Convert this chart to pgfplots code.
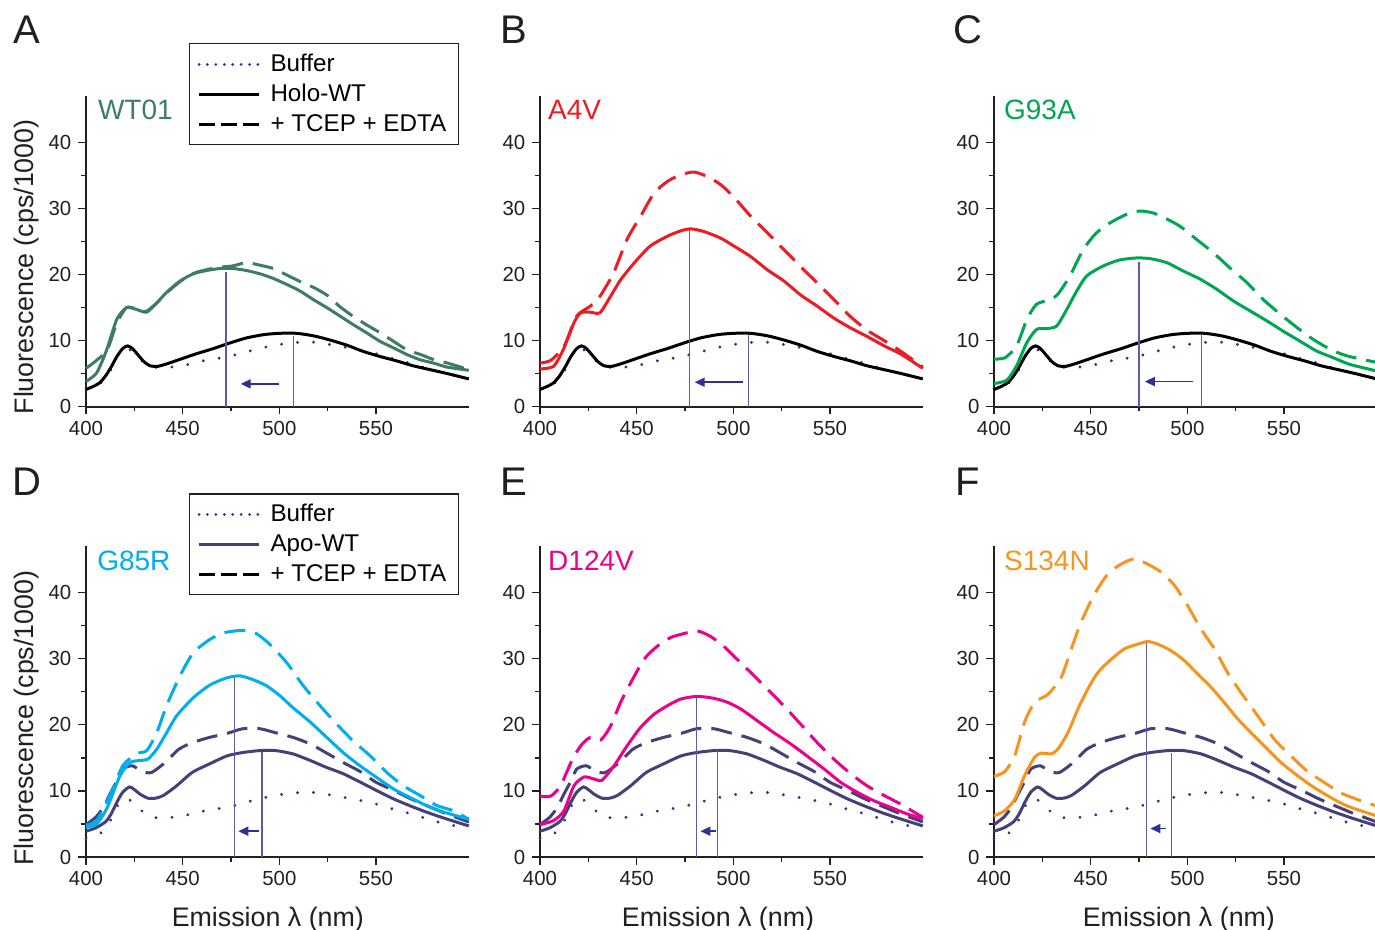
\documentclass[border=0pt]{standalone}
\usepackage{fontspec}
\setmainfont{Liberation Sans}
\usepackage{pgfplots}
\usepackage{pgfplotstable}
\pgfplotsset{compat=1.18}
\usetikzlibrary{arrows.meta}

\definecolor{txt}{RGB}{35,31,32}
\definecolor{wtgreen}{RGB}{62,125,96}
\definecolor{a4vred}{RGB}{237,28,36}
\definecolor{g93green}{RGB}{0,166,81}
\definecolor{g85cyan}{RGB}{0,174,239}
\definecolor{d124mag}{RGB}{236,0,140}
\definecolor{s134org}{RGB}{247,148,29}
\definecolor{apo}{RGB}{70,64,120}
\definecolor{buf}{RGB}{46,49,146}
\definecolor{vl}{RGB}{90,94,170}

% shared curves
\pgfplotstableread{
x y
400 2.8
404 3.2
408 3.7
411 4.8
414 6.2
417 8.2
420 8.8
424 8.4
428 7.2
433 6.1
440 5.9
450 6.2
458 6.8
466 7.2
474 7.6
483 8.3
491 8.9
500 9.4
508 9.7
516 9.8
524 9.5
532 9.1
541 8.6
549 8.1
557 7.4
566 6.7
574 6.0
582 5.3
591 4.7
598 4.0
}\buffer

\pgfplotstableread{
x y
400 2.6
404 3.1
407 3.6
410 4.6
413 6.0
416 7.6
419 8.8
421.5 9.2
424 8.8
427 7.8
430 6.8
433 6.2
437 6.1
442 6.5
449 7.2
457 8.0
466 8.8
474 9.6
483 10.4
492 10.9
500 11.1
509 11.1
518 10.7
526 10.1
535 9.3
543 8.4
552 7.6
561 6.9
569 6.2
578 5.6
587 5.0
598 4.2
}\holo

\pgfplotstableread{
x y
400 3.9
405 4.4
410 5.3
413 6.5
416 8.3
419 9.8
422.5 10.6
425 10.2
428 9.5
432 8.9
436 8.9
440 9.3
447 10.8
455 12.8
464 14.1
473 15.3
481 15.8
490 16.1
498 16.1
507 15.6
516 14.6
524 13.6
533 12.6
542 11.3
550 10.1
559 8.8
568 7.7
576 6.8
585 5.9
598 4.7
}\apo

\pgfplotstableread{
x y
400 4.9
405 6.0
409 7.5
412 9.3
416 11.5
419 13.3
424 13.8
429 12.9
434 12.8
441 14.3
448 16.3
455 17.3
464 18.1
473 18.7
481 19.4
490 19.4
498 18.8
507 18.1
516 17.1
524 15.8
533 14.3
542 12.9
550 11.3
559 10.1
568 8.8
576 7.8
585 6.7
598 5.3
}\apod

\pgfplotsset{
  panel/.style={
    scale only axis, width=191.4pt, height=155.35pt,
    anchor=south west,
    xmin=400, xmax=598, ymin=0, ymax=47,
    axis x line*=bottom, axis y line*=left,
    axis line style={-, line width=0.9pt, color=txt},
    xtick={400,450,500,550}, ytick={0,10,20,30,40},
    minor x tick num=1, minor y tick num=1,
    tick align=outside,
    major tick length=3.8pt, minor tick length=2.3pt,
    every tick/.style={line width=0.7pt, color=txt},
    tick label style={font=\fontsize{10.2}{12}\selectfont, text=txt},
    /pgf/number format/assume math mode=true,
    clip=false,
    legend image code/.code={\draw[##1] (0pt,0pt) -- (30pt,0pt);},
    legend style={at={(0.974,1.17)}, anchor=north east, draw=txt,
      line width=0.6pt, fill=white, font=\fontsize{12.1}{13}\selectfont,
      inner xsep=4pt, inner ysep=3pt, row sep=1pt,
      /tikz/every odd column/.append style={column sep=3pt}},
    legend cell align=left,
  },
  sol/.style={line width=1.5pt, smooth, tension=0.4, forget plot},
  dsh/.style={line width=1.5pt, smooth, tension=0.4, dash pattern=on 10.5pt off 5pt, forget plot},
  dot/.style={buf, line width=1.6pt, smooth, tension=0.4, dash pattern=on 0.01pt off 8pt, line cap=round, forget plot},
  vln/.style={vl, line width=0.6pt, forget plot},
  arr/.style={buf, line width=0.9pt, -{Triangle[length=5pt,width=4.5pt]}, forget plot},
}
\tikzset{
  lbl/.style={font=\fontsize{20}{24}\selectfont, text=txt},
  nm/.style={anchor=west, font=\fontsize{14}{16}\selectfont},
  ax/.style={font=\fontsize{13.4}{16}\selectfont, text=txt},
}

\begin{document}
\begin{tikzpicture}
\useasboundingbox (0,0) rectangle (687.5pt,465pt);

% ---- A ----
\begin{axis}[panel, at={(43pt,261.65pt)}]
\addplot[dot] table {\buffer};
\addplot[sol, black] table {\holo};
\addplot[dsh, wtgreen] coordinates {
(400,5.8) (405,6.9) (411,8.6) (416,12.7) (421,15.0) (426,14.8) (431,14.4)
(437,15.8) (442,17.3) (449,19.0) (456,20.2) (462,20.7) (469,21.1) (476,21.3)
(483,21.8) (490,21.4) (497,20.9) (504,19.9) (511,18.9) (518,18.0) (525,16.8)
(531,15.2) (538,13.7) (545,12.4) (552,11.2) (559,9.9) (566,8.6) (573,7.9)
(580,7.1) (587,6.6) (598,5.6)};
\addplot[sol, wtgreen] coordinates {
(400,3.8) (405.5,5.1) (410.7,8.6) (415.9,13.2) (421,15.0) (426.2,14.7)
(431.4,14.3) (436.6,15.7) (441.7,17.3) (448.6,19.0) (455.5,20.1) (462.4,20.6)
(469.3,20.9) (476.2,20.9) (483,20.6) (490,20.1) (496.9,19.4) (503.8,18.5)
(510.7,17.5) (517.6,16.2) (524.5,15.0) (531.4,13.7) (538.3,12.4) (545,11.2)
(552,9.9) (559,8.9) (565.9,7.9) (572.8,7.1) (579.7,6.6) (586.6,6.0) (598,5.5)};
\addplot[vln] coordinates {(472.4,0) (472.4,20.4)};
\addplot[vln] coordinates {(507.2,0) (507.2,10.7)};
\addplot[arr] coordinates {(500,3.45) (480,3.45)};
\addlegendimage{buf, line width=1.5pt, dash pattern=on 0.01pt off 4.2pt, line cap=round}
\addlegendentry{Buffer}
\addlegendimage{black, line width=1.5pt}
\addlegendentry{Holo-WT}
\addlegendimage{black, line width=1.5pt, dash pattern=on 8pt off 3pt}
\addlegendentry{+ TCEP + EDTA}
\node[lbl] at (rel axis cs:-0.154,1.212) {A};
\node[nm, text=wtgreen] at (rel axis cs:0.013,0.955) {WT01};
\node[ax, rotate=90] at (rel axis cs:-0.154,0.45) {Fluorescence (cps/1000)};
\end{axis}

% ---- B ----
\begin{axis}[panel, at={(270pt,261.65pt)}]
\addplot[dot] table {\buffer};
\addplot[sol, black] table {\holo};
\addplot[dsh, a4vred] coordinates {
(400,6.6) (405.5,7.0) (412.4,9.1) (419,13.7) (426,15.2) (431,16.7) (438,20.2)
(445,25.3) (452,28.8) (459,32.3) (466,34.1) (473,35.1) (479.7,35.5) (486.6,34.8)
(493.4,33.6) (500,31.8) (509,28.8) (517.6,26.3) (526,23.8) (534.8,21.2)
(543.4,18.7) (552,16.2) (560.7,13.6) (569,11.6) (578,10.0) (587,8.3) (598,6.0)};
\addplot[sol, a4vred] coordinates {
(400,5.7) (407,6.1) (412,8.6) (417.6,12.7) (421,14.2) (426,14.3) (431,14.2)
(436.5,16.7) (441.7,19.2) (448.6,21.7) (457,24.3) (466,25.8) (472.8,26.6)
(478,26.9) (484.8,26.5) (493.4,25.5) (500.3,24.3) (509,22.7) (517.6,20.7)
(526.2,19.0) (534.8,16.9) (543.4,15.2) (552,13.4) (560.7,11.9) (569.3,10.6)
(578,9.2) (587,7.9) (598,5.8)};
\addplot[vln] coordinates {(477.2,0) (477.2,26.7)};
\addplot[vln] coordinates {(507.8,0) (507.8,10.8)};
\addplot[arr] coordinates {(505,3.7) (480,3.7)};
\node[lbl] at (rel axis cs:-0.068,1.212) {B};
\node[nm, text=a4vred] at (rel axis cs:0.003,0.955) {A4V};
\end{axis}

% ---- C ----
\begin{axis}[panel, at={(497pt,261.65pt)}]
\addplot[dot] table {\buffer};
\addplot[sol, black] table {\holo};
\addplot[dsh, g93green] coordinates {
(400,7.2) (405.7,7.4) (411.7,9.2) (417,13.2) (422,15.5) (429,16.2) (433,17.0)
(439.3,19.8) (446.2,23.8) (453,26.3) (460,27.8) (468.6,29.1) (475.5,29.6)
(482.4,29.3) (489.3,28.4) (496.2,27.3) (504.8,25.3) (513.4,23.3) (522,21.0)
(530.7,18.8) (539.3,16.2) (548,14.0) (556.6,12.0) (565,10.2) (573.8,8.7)
(582.4,7.7) (598,6.7)};
\addplot[sol, g93green] coordinates {
(400,3.5) (406.6,4.0) (411.7,6.2) (417,9.7) (422,11.7) (427,11.8) (432.4,12.2)
(437.6,14.7) (442.8,17.5) (448,19.8) (456.6,21.3) (465,22.2) (473.8,22.5)
(480.7,22.4) (489.3,21.8) (498,20.5) (506.6,19.3) (515,17.8) (523.8,16.0)
(532.4,14.5) (541,13.0) (549.7,11.4) (558.3,9.9) (567,8.4) (575.5,7.4)
(584,6.4) (598,5.4)};
\addplot[vln] coordinates {(475,0) (475,21.9)};
\addplot[vln] coordinates {(507.5,0) (507.5,10.8)};
\addplot[arr] coordinates {(503,3.8) (478,3.8)};
\node[lbl] at (rel axis cs:-0.068,1.212) {C};
\node[nm, text=g93green] at (rel axis cs:0.008,0.955) {G93A};
\end{axis}

% ---- D ----
\begin{axis}[panel, at={(43pt,36.5pt)}]
\addplot[dot] table {\buffer};
\addplot[dsh, apo] table {\apod};
\addplot[sol, apo] table {\apo};
\addplot[dsh, g85cyan] coordinates {
(400,4.8) (405.5,5.5) (412.4,9.3) (419,13.8) (426,15.6) (431.4,16.1)
(436.6,18.8) (441.7,22.9) (448.6,27.4) (455.5,30.9) (464,32.9) (471,33.9)
(481.4,34.3) (488,33.8) (495,32.2) (503.8,29.4) (512.4,25.9) (521,22.9)
(529.7,20.1) (538,17.6) (547,15.3) (555.5,12.8) (564,10.8) (572.8,9.3)
(581.4,7.8) (590,7.0) (598,5.7)};
\addplot[sol, g85cyan] coordinates {
(400,4.5) (405.5,5.0) (410.7,7.3) (417.6,12.3) (422.8,14.3) (428,14.6)
(432,14.8) (436.6,16.3) (441.7,18.8) (447,21.4) (455.5,24.1) (464,26.0)
(472.8,27.1) (479.7,27.4) (486.6,26.8) (493.4,25.9) (500.3,24.4) (507,22.6)
(516,20.4) (524.5,18.1) (533,15.8) (541.7,13.8) (550,12.1) (559,10.3)
(567.6,9.0) (576,7.8) (585,6.8) (598,5.7)};
\addplot[vln] coordinates {(476.7,0) (476.7,27.1)};
\addplot[vln] coordinates {(491,0) (491,15.9)};
\addplot[arr] coordinates {(489.7,3.9) (478.8,3.9)};
\addlegendimage{buf, line width=1.5pt, dash pattern=on 0.01pt off 4.2pt, line cap=round}
\addlegendentry{Buffer}
\addlegendimage{apo, line width=1.5pt}
\addlegendentry{Apo-WT}
\addlegendimage{black, line width=1.5pt, dash pattern=on 8pt off 3pt}
\addlegendentry{+ TCEP + EDTA}
\node[lbl] at (rel axis cs:-0.154,1.207) {D};
\node[nm, text=g85cyan] at (rel axis cs:0.011,0.953) {G85R};
\node[ax, rotate=90] at (rel axis cs:-0.154,0.447) {Fluorescence (cps/1000)};
\node[ax] at (rel axis cs:0.475,-0.2) {Emission λ (nm)};
\end{axis}

% ---- E ----
\begin{axis}[panel, at={(270pt,36.5pt)}]
\addplot[dot] table {\buffer};
\addplot[dsh, apo] table {\apod};
\addplot[sol, apo] table {\apo};
\addplot[dsh, d124mag] coordinates {
(400,9.2) (405.5,9.2) (410.7,10.8) (416,14.3) (421,16.8) (426,18.1) (431.4,17.7)
(436.5,19.8) (441.7,23.4) (447,26.4) (453.8,29.9) (460.7,31.9) (467.6,33.2)
(474.5,33.8) (481.4,34.2) (488,33.4) (495,31.9) (502,29.9) (509,27.9)
(517.6,25.4) (526,22.9) (534.8,20.1) (543.4,17.3) (552,14.8) (560.7,12.6)
(569,10.8) (578,9.3) (586.6,8.0) (598,6.0)};
\addplot[sol, d124mag] coordinates {
(400,4.9) (407,5.5) (412.4,7.0) (417.6,10.8) (422.8,12.1) (428,11.8) (432,11.6)
(438.3,13.8) (445,16.8) (452,19.6) (459,21.6) (466,22.9) (472.8,23.9)
(481.4,24.3) (490,24.0) (497,23.4) (503.8,22.4) (512.4,20.6) (521,18.8)
(529.7,17.1) (538,15.3) (547,13.3) (555.5,11.3) (564,9.8) (572.8,8.5)
(581.4,7.5) (590,6.5) (598,5.8)};
\addplot[vln] coordinates {(481,0) (481,24.0)};
\addplot[vln] coordinates {(491.9,0) (491.9,16.4)};
\addplot[arr] coordinates {(491,3.9) (483,3.9)};
\node[lbl] at (rel axis cs:-0.068,1.207) {E};
\node[nm, text=d124mag] at (rel axis cs:0.003,0.953) {D124V};
\node[ax] at (rel axis cs:0.465,-0.2) {Emission λ (nm)};
\end{axis}

% ---- F ----
\begin{axis}[panel, at={(497pt,36.5pt)}]
\addplot[dot] table {\buffer};
\addplot[dsh, apo] table {\apod};
\addplot[sol, apo] table {\apo};
\addplot[dsh, s134org] coordinates {
(400,12.2) (405.5,12.9) (410.7,15.3) (415.8,20.4) (421,23.4) (427.9,24.6)
(434.8,27.2) (440,31.5) (445,35.5) (452,39.8) (458.9,42.8) (465.7,44.3)
(472.6,45.1) (479.5,44.3) (486.4,43.1) (493.3,41.1) (500.2,38.0) (507,34.5)
(514,31.5) (520.8,27.9) (527.7,24.9) (536.3,21.4) (545,17.8) (553.5,15.3)
(562,13.0) (570.7,11.3) (579.3,9.7) (588,8.7) (598,7.7)};
\addplot[sol, s134org] coordinates {
(400,6.2) (405.5,7.0) (410.7,8.7) (415.8,12.3) (421,15.1) (424.4,15.7)
(429.6,15.6) (433,16.3) (438.2,18.8) (443.4,22.4) (448.5,25.4) (453.7,27.9)
(460.6,29.9) (467.5,31.5) (474.4,32.2) (479.5,32.6) (484.7,32.2) (491.6,31.2)
(498.5,29.7) (505.3,27.7) (512.2,25.7) (519,23.4) (526,20.9) (532.9,18.8)
(539.8,16.8) (548.4,14.3) (557,12.3) (565.6,10.5) (574.2,9.0) (582.8,7.7)
(598,6.2)};
\addplot[vln] coordinates {(479,0) (479,32.4)};
\addplot[vln] coordinates {(491.6,0) (491.6,15.8)};
\addplot[arr] coordinates {(489,4.3) (480.9,4.3)};
\node[lbl] at (rel axis cs:-0.068,1.207) {F};
\node[nm, text=s134org] at (rel axis cs:0.008,0.953) {S134N};
\node[ax] at (rel axis cs:0.483,-0.2) {Emission λ (nm)};
\end{axis}
\end{tikzpicture}
\end{document}
